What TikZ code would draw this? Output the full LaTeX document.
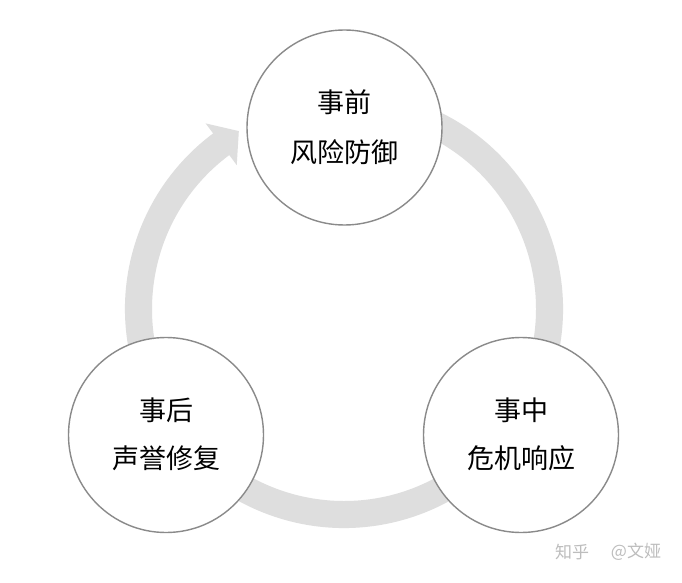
\documentclass[tikz,border=0pt]{standalone}
\usepackage{fontspec}
\newfontfamily\cjk{Noto Sans CJK SC}
\usetikzlibrary{calc}
\definecolor{ringgray}{HTML}{DEDEDE}
\definecolor{edgegray}{HTML}{8A8A8A}
\definecolor{wmgray}{HTML}{BDBDBD}
\tikzset{
  stage/.style={circle, draw=edgegray, line width=1.4pt, fill=white, minimum size=195pt, inner sep=0pt},
  stagetext/.style={font=\cjk\fontsize{27}{27}\selectfont, text=black, inner sep=0pt, anchor=center},
  wmtext/.style={font=\cjk\fontsize{17}{17}\selectfont, text=wmgray, inner sep=0pt, anchor=center}
}
\begin{document}
\begin{tikzpicture}[x=1pt,y=1pt]
\useasboundingbox[fill=white] (0,0) rectangle (682,582);
\coordinate (ringc) at (344,273);
% ring with arrowhead
\fill[ringgray] ($(ringc)+(70:219pt)$) arc[start angle=70, end angle=-233.3, radius=219pt]
  -- ($(ringc)+(126.7:231.5pt)$)
  -- ($(ringc)+(126.7:205.5pt)+(36.7:22pt)$)
  -- ($(ringc)+(126.7:179.5pt)$)
  -- ($(ringc)+(126.7:192pt)$) arc[start angle=126.7, end angle=430, radius=192pt] -- cycle;
% stages
\node[stage] (pre) at (344.5,454.5) {};
\node[stage] (post) at (166,147) {};
\node[stage] (mid) at (521,147) {};
\node[stagetext] (pre1) at ($(pre)+(0,25.5)$) {事前};
\node[stagetext] (pre2) at ($(pre)+(0,-24.5)$) {风险防御};
\node[stagetext] (post1) at ($(post)+(0,25)$) {事后};
\node[stagetext] (post2) at ($(post)+(0,-23.5)$) {声誉修复};
\node[stagetext] (mid1) at ($(mid)+(0,25)$) {事中};
\node[stagetext] (mid2) at ($(mid)+(0,-23.5)$) {危机响应};
% watermark
\node[wmtext] (wm1) at (572,30) {知乎};
\node[wmtext] (wm2) at (636,30) {@文娅};
\end{tikzpicture}
\end{document}
